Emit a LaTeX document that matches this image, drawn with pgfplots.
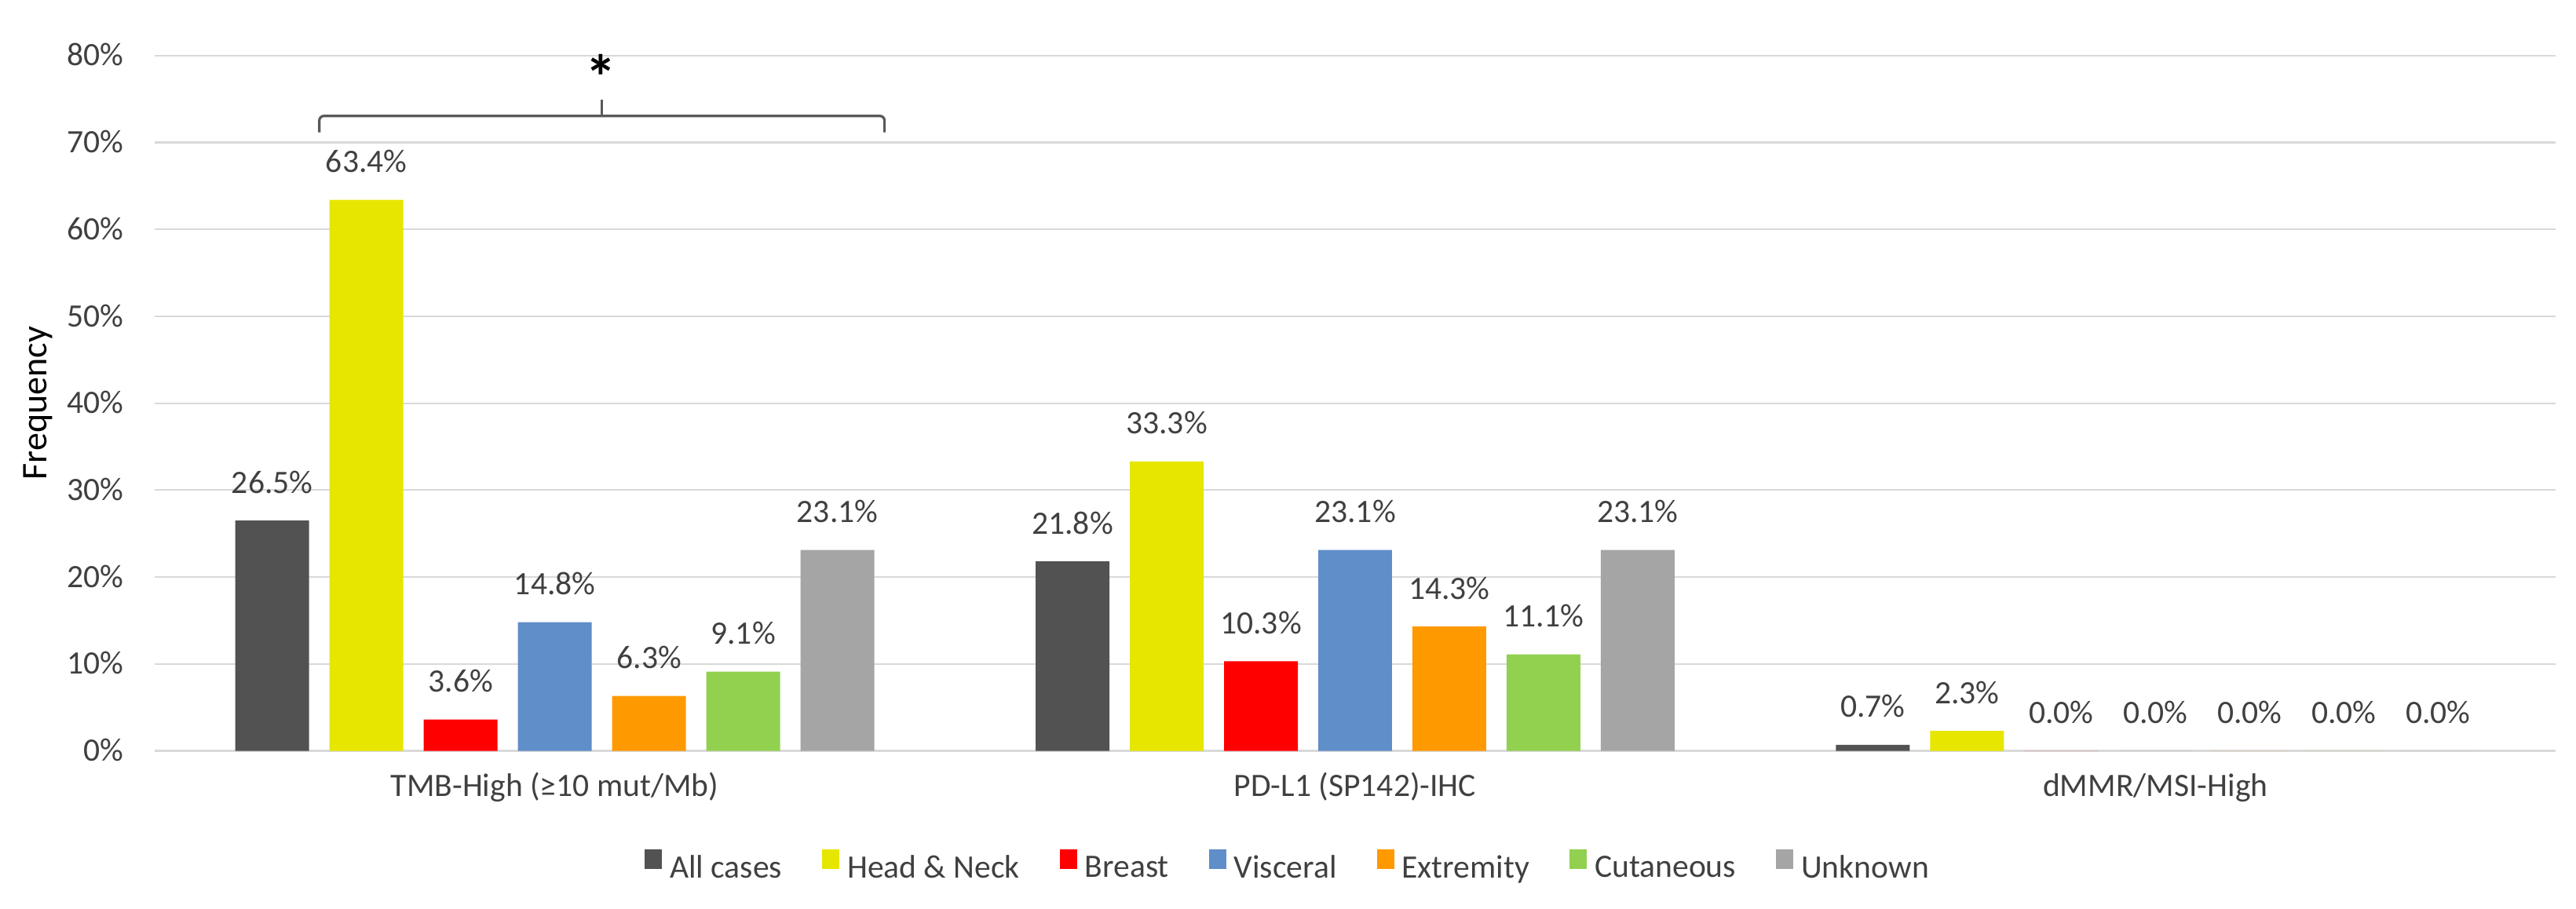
\documentclass[border=0pt]{standalone}
\usepackage{pgfplots}
\pgfplotsset{compat=1.18}
\usepackage{fontspec}
\setmainfont{Carlito}
\definecolor{cAll}{HTML}{525252}
\definecolor{cHN}{HTML}{E6E600}
\definecolor{cBr}{HTML}{FF0000}
\definecolor{cVi}{HTML}{5F8EC9}
\definecolor{cEx}{HTML}{FF9900}
\definecolor{cCu}{HTML}{92D050}
\definecolor{cUn}{HTML}{A5A5A5}
\definecolor{gridc}{HTML}{D9D9D9}
\definecolor{txt}{HTML}{404040}
\definecolor{brk}{HTML}{595959}
\newcommand{\lblfont}{\fontsize{10.4}{12.5}\selectfont}
\begin{document}
\begin{tikzpicture}
\begin{axis}[
  at={(0pt,0pt)}, anchor=south west,
  width=764.5pt, height=221.45pt, scale only axis,
  xmin=-0.5, xmax=2.5, ymin=0, ymax=80,
  enlargelimits=false,
  ybar, bar width=0.0922,
  xtick={0,1,2},
  xticklabels={TMB-High (≥10 mut/Mb), PD-L1 (SP142)-IHC, dMMR/MSI-High},
  ytick={0,10,20,30,40,50,60,70,80},
  yticklabels={0\%,10\%,20\%,30\%,40\%,50\%,60\%,70\%,80\%},
  ymajorgrids,
  major grid style={draw=gridc, line width=0.55pt},
  axis line style={draw=none},
  major tick length=0pt,
  tick style={draw=none},
  tick label style={font=\lblfont, text=txt},
  xticklabel style={anchor=base, inner sep=0pt, yshift=-14.45pt},
  yticklabel style={anchor=base east, inner sep=0pt, xshift=-9.75pt, yshift=-3.3pt},
  ylabel={Frequency},
  every axis y label/.style={at={(axis description cs:0,0.5)}, anchor=center, xshift=-37.1pt, rotate=90, font=\fontsize{11.5}{13.5}\selectfont, text=black, inner sep=0pt},
  /pgf/number format/assume math mode=true,
  nodes near coords={\pgfmathprintnumber[fixed,fixed zerofill,precision=1]{\pgfplotspointmeta}\%},
  every node near coord/.append style={font=\lblfont, text=txt, anchor=base, inner sep=0pt, yshift=8.7pt},
  clip=false,
  legend columns=7,
  legend cell align=left,
  legend image code/.code={\fill[#1] (0pt,0pt) rectangle (5.5pt,6.25pt);},
  legend style={draw=none, fill=none, at={(axis description cs:0,0)}, anchor=center,
    xshift=360.5pt, yshift=-36.8pt, inner sep=0pt, outer sep=0pt,
    font=\lblfont, text=txt,
    nodes={inner sep=0pt},
    /tikz/every odd column/.append style={column sep=2.5pt},
    /tikz/every even column/.append style={column sep=12.75pt}},
]
\addplot[fill=cAll, draw=none, bar shift=-0.3531] coordinates {(0,26.5) (1,21.8) (2,0.7)};
\addlegendentry{All cases}
\addplot[fill=cHN, draw=none, bar shift=-0.2354] coordinates {(0,63.4) (1,33.3) (2,2.3)};
\addlegendentry{Head \& Neck}
\addplot[fill=cBr, draw=none, bar shift=-0.1177] coordinates {(0,3.6) (1,10.3) (2,0.0)};
\addlegendentry{Breast}
\addplot[fill=cVi, draw=none, bar shift=0] coordinates {(0,14.8) (1,23.1) (2,0.0)};
\addlegendentry{Visceral}
\addplot[fill=cEx, draw=none, bar shift=0.1177] coordinates {(0,6.3) (1,14.3) (2,0.0)};
\addlegendentry{Extremity}
\addplot[fill=cCu, draw=none, bar shift=0.2354] coordinates {(0,9.1) (1,11.1) (2,0.0)};
\addlegendentry{Cutaneous}
\addplot[fill=cUn, draw=none, bar shift=0.3531] coordinates {(0,23.1) (1,23.1) (2,0.0)};
\addlegendentry{Unknown}
\draw[brk, line width=0.8pt, rounded corners=1.5pt]
  (axis cs:-0.2943,71.15) -- (axis cs:-0.2943,73.05) -- (axis cs:0.4120,73.05) -- (axis cs:0.4120,71.15);
\draw[brk, line width=0.8pt] (axis cs:0.0589,73.05) -- (axis cs:0.0589,74.95);
\node[anchor=north, inner sep=0pt, text=black, font=\bfseries\fontsize{20}{24}\selectfont] at (axis cs:0.0579,80.17) {*};
\end{axis}
\pgfresetboundingbox
\path[use as bounding box] (-49.25pt,-50.375pt) rectangle (771pt,239.125pt);
\end{tikzpicture}
\end{document}
